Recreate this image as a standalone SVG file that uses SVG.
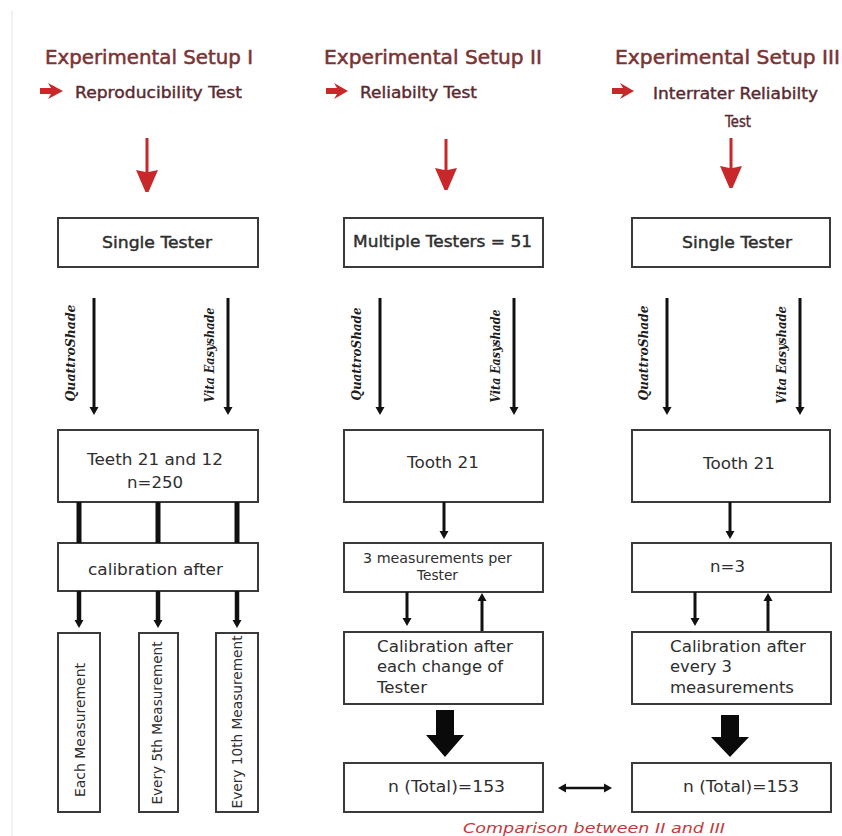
<svg xmlns="http://www.w3.org/2000/svg" width="842" height="836" viewBox="0 0 842 836">
<style>
.box{fill:#fff;stroke:#3a3a3a;stroke-width:2}
.t{font-family:"DejaVu Sans","Verdana",sans-serif;font-size:16.5px;fill:#2e2e2e}
.hv{stroke:#2e2e2e;stroke-width:0.45}
.sm{font-size:13.5px}
.title{font-family:"DejaVu Sans",sans-serif;font-size:19px;fill:#7a3434;stroke:#7a3434;stroke-width:0.5}
.sub{font-family:"DejaVu Sans",sans-serif;font-size:15px;fill:#5a2a30;stroke:#5a2a30;stroke-width:0.4}
.dev{font-family:"DejaVu Serif",serif;font-style:italic;font-weight:bold;font-size:13px;fill:#1e1e1e}
.cmp{font-family:"DejaVu Sans",sans-serif;font-style:italic;font-size:14px;fill:#c23a3a}
.ln{stroke:#111;fill:none}
.a3{stroke-width:3;marker-end:url(#ah)}
.thick{stroke-width:5}
.a45{stroke-width:4.5;marker-end:url(#ah)}
.red{fill:#c8282a}
.blk{fill:#0a0a0a}
</style>
<defs>
<marker id="ah" markerUnits="userSpaceOnUse" markerWidth="12" markerHeight="12" viewBox="0 -6 10 12" refX="0" refY="0" orient="auto-start-reverse">
<path d="M0,-4.5 L8,0 L0,4.5 Z" fill="#111"/>
</marker>
</defs>
<rect width="842" height="836" fill="#fff"/>
<line x1="12" y1="10" x2="12" y2="836" stroke="#ececec" stroke-width="1.5"/>

<g id="header1">
<text class="title" x="45" y="64" textLength="208" lengthAdjust="spacingAndGlyphs">Experimental Setup I</text>
<path class="red" d="M40,88 L51,88 L48,83 L63,91 L48,99 L51,94 L40,94 Z"/>
<text class="sub" x="75" y="98" textLength="167" lengthAdjust="spacingAndGlyphs">Reproducibility Test</text>
</g>
<g id="header2">
<text class="title" x="324" y="64" textLength="218" lengthAdjust="spacingAndGlyphs">Experimental Setup II</text>
<path class="red" d="M326,88 L337,88 L334,83 L348,91 L334,99 L337,94 L326,94 Z"/>
<text class="sub" x="360" y="98" textLength="117" lengthAdjust="spacingAndGlyphs">Reliabilty Test</text>
</g>
<g id="header3">
<text class="title" x="615" y="64" textLength="225" lengthAdjust="spacingAndGlyphs">Experimental Setup III</text>
<path class="red" d="M612,88 L623,88 L620,83 L634,91 L620,99 L623,94 L612,94 Z"/>
<text class="sub" x="653" y="99" textLength="165" lengthAdjust="spacingAndGlyphs">Interrater Reliabilty</text>
<text class="sub" x="725" y="127" textLength="26" lengthAdjust="spacingAndGlyphs">Test</text>
</g>

<g id="n1_single">
<rect class="box" x="58" y="218" width="200" height="49"/>
<text class="t hv" x="102" y="248" textLength="110" lengthAdjust="spacingAndGlyphs">Single Tester</text>
</g>
<g id="n2_multiple">
<rect class="box" x="344" y="218" width="199" height="49"/>
<text class="t hv" x="353" y="247" textLength="179" lengthAdjust="spacingAndGlyphs">Multiple Testers = 51</text>
</g>
<g id="n3_single">
<rect class="box" x="632" y="218" width="198" height="49"/>
<text class="t hv" x="682" y="248" textLength="110" lengthAdjust="spacingAndGlyphs">Single Tester</text>
</g>

<g id="n1_teeth">
<rect class="box" x="58" y="430" width="200" height="72"/>
<text class="t" x="87" y="465" textLength="136" lengthAdjust="spacingAndGlyphs">Teeth 21 and 12</text>
<text class="t" x="127" y="488" textLength="56" lengthAdjust="spacingAndGlyphs">n=250</text>
</g>
<g id="n2_tooth">
<rect class="box" x="344" y="430" width="199" height="72"/>
<text class="t" x="407" y="468" textLength="72" lengthAdjust="spacingAndGlyphs">Tooth 21</text>
</g>
<g id="n3_tooth">
<rect class="box" x="632" y="430" width="198" height="72"/>
<text class="t" x="703" y="469" textLength="72" lengthAdjust="spacingAndGlyphs">Tooth 21</text>
</g>

<g id="n1_calib">
<rect class="box" x="58" y="543" width="200" height="48"/>
<text class="t" x="88" y="575" textLength="135" lengthAdjust="spacingAndGlyphs">calibration after</text>
</g>
<g id="n2_meas">
<rect class="box" x="344" y="543" width="199" height="49"/>
<text class="t sm" x="363" y="563" textLength="149" lengthAdjust="spacingAndGlyphs">3 measurements per</text>
<text class="t sm" x="417" y="580" textLength="41" lengthAdjust="spacingAndGlyphs">Tester</text>
</g>
<g id="n3_n3">
<rect class="box" x="632" y="543" width="199" height="49"/>
<text class="t" x="710" y="572" textLength="35" lengthAdjust="spacingAndGlyphs">n=3</text>
</g>

<g id="n1_each">
<rect class="box" x="58" y="633" width="42" height="179"/>
<text class="t sm" transform="translate(85,730) rotate(-90)" text-anchor="middle" textLength="134" lengthAdjust="spacingAndGlyphs">Each Measurement</text>
</g>
<g id="n1_every5">
<rect class="box" x="139" y="633" width="39" height="179"/>
<text class="t sm" transform="translate(162,723) rotate(-90)" text-anchor="middle" textLength="163" lengthAdjust="spacingAndGlyphs">Every 5th Measurement</text>
</g>
<g id="n1_every10">
<rect class="box" x="216" y="633" width="42" height="179"/>
<text class="t sm" transform="translate(242,722) rotate(-90)" text-anchor="middle" textLength="173" lengthAdjust="spacingAndGlyphs">Every 10th Measurement</text>
</g>

<g id="n2_calib">
<rect class="box" x="344" y="632" width="199" height="72"/>
<text class="t" x="377" y="652" textLength="136" lengthAdjust="spacingAndGlyphs">Calibration after</text>
<text class="t" x="377" y="672" textLength="126" lengthAdjust="spacingAndGlyphs">each change of</text>
<text class="t" x="377" y="693" textLength="50" lengthAdjust="spacingAndGlyphs">Tester</text>
</g>
<g id="n3_calib">
<rect class="box" x="632" y="632" width="199" height="72"/>
<text class="t" x="670" y="652" textLength="136" lengthAdjust="spacingAndGlyphs">Calibration after</text>
<text class="t" x="670" y="672" textLength="62" lengthAdjust="spacingAndGlyphs">every 3</text>
<text class="t" x="670" y="693" textLength="124" lengthAdjust="spacingAndGlyphs">measurements</text>
</g>

<g id="n2_total">
<rect class="box" x="344" y="763" width="199" height="49"/>
<text class="t" x="388" y="792" textLength="117" lengthAdjust="spacingAndGlyphs">n (Total)=153</text>
</g>
<g id="n3_total">
<rect class="box" x="632" y="763" width="199" height="49"/>
<text class="t" x="683" y="792" textLength="116" lengthAdjust="spacingAndGlyphs">n (Total)=153</text>
</g>

<g id="connectors">
<path class="red" d="M145.5,138 h3 v34 l9.5,-2 l-9.5,22 h-3 l-9.5,-22 l9.5,2 Z"/>
<path class="red" d="M444.5,139 h3 v31 l9.5,-2 l-9.5,22 h-3 l-9.5,-22 l9.5,2 Z"/>
<path class="red" d="M729.5,138 h3 v30 l9.5,-2 l-9.5,22 h-3 l-9.5,-22 l9.5,2 Z"/>

<line class="ln a3" x1="94" y1="298" x2="94" y2="407"/>
<line class="ln a3" x1="228" y1="298" x2="228" y2="407"/>
<line class="ln a3" x1="380" y1="298" x2="380" y2="407"/>
<line class="ln a3" x1="514" y1="298" x2="514" y2="407"/>
<line class="ln a3" x1="667" y1="298" x2="667" y2="407"/>
<line class="ln a3" x1="800" y1="298" x2="800" y2="407"/>
<text class="dev" transform="translate(75,353) rotate(-90)" text-anchor="middle" textLength="97" lengthAdjust="spacingAndGlyphs">QuattroShade</text>
<text class="dev" transform="translate(214,355) rotate(-90)" text-anchor="middle" textLength="95" lengthAdjust="spacingAndGlyphs">Vita Easyshade</text>
<text class="dev" transform="translate(361,354) rotate(-90)" text-anchor="middle" textLength="93" lengthAdjust="spacingAndGlyphs">QuattroShade</text>
<text class="dev" transform="translate(500,356) rotate(-90)" text-anchor="middle" textLength="93" lengthAdjust="spacingAndGlyphs">Vita Easyshade</text>
<text class="dev" transform="translate(648,353) rotate(-90)" text-anchor="middle" textLength="95" lengthAdjust="spacingAndGlyphs">QuattroShade</text>
<text class="dev" transform="translate(786,355) rotate(-90)" text-anchor="middle" textLength="98" lengthAdjust="spacingAndGlyphs">Vita Easyshade</text>

<line class="ln thick" x1="79" y1="502" x2="79" y2="543"/>
<line class="ln thick" x1="158" y1="502" x2="158" y2="543"/>
<line class="ln thick" x1="237" y1="502" x2="237" y2="543"/>
<line class="ln a45" x1="79" y1="591" x2="79" y2="620"/>
<line class="ln a45" x1="158" y1="591" x2="158" y2="620"/>
<line class="ln a45" x1="237" y1="591" x2="237" y2="620"/>

<line class="ln a3" x1="444" y1="502" x2="444" y2="531"/>
<line class="ln a3" x1="407" y1="592" x2="407" y2="618"/>
<line class="ln a3" x1="482" y1="631" x2="482" y2="601"/>
<line class="ln a3" x1="730" y1="502" x2="730" y2="531"/>
<line class="ln a3" x1="695" y1="592" x2="695" y2="618"/>
<line class="ln a3" x1="768" y1="631" x2="768" y2="601"/>

<path class="blk" d="M436,710 H454 V735 H464 L445,757 L426,735 H436 Z"/>
<path class="blk" d="M721,715 H739 V737 H749 L730,757 L711,737 H721 Z"/>

<line class="ln" stroke-width="2.5" x1="566" y1="788" x2="604" y2="788" marker-start="url(#ah)" marker-end="url(#ah)"/>
<text class="cmp" x="463" y="833" textLength="262" lengthAdjust="spacingAndGlyphs">Comparison between II and III</text>
</g>
</svg>
